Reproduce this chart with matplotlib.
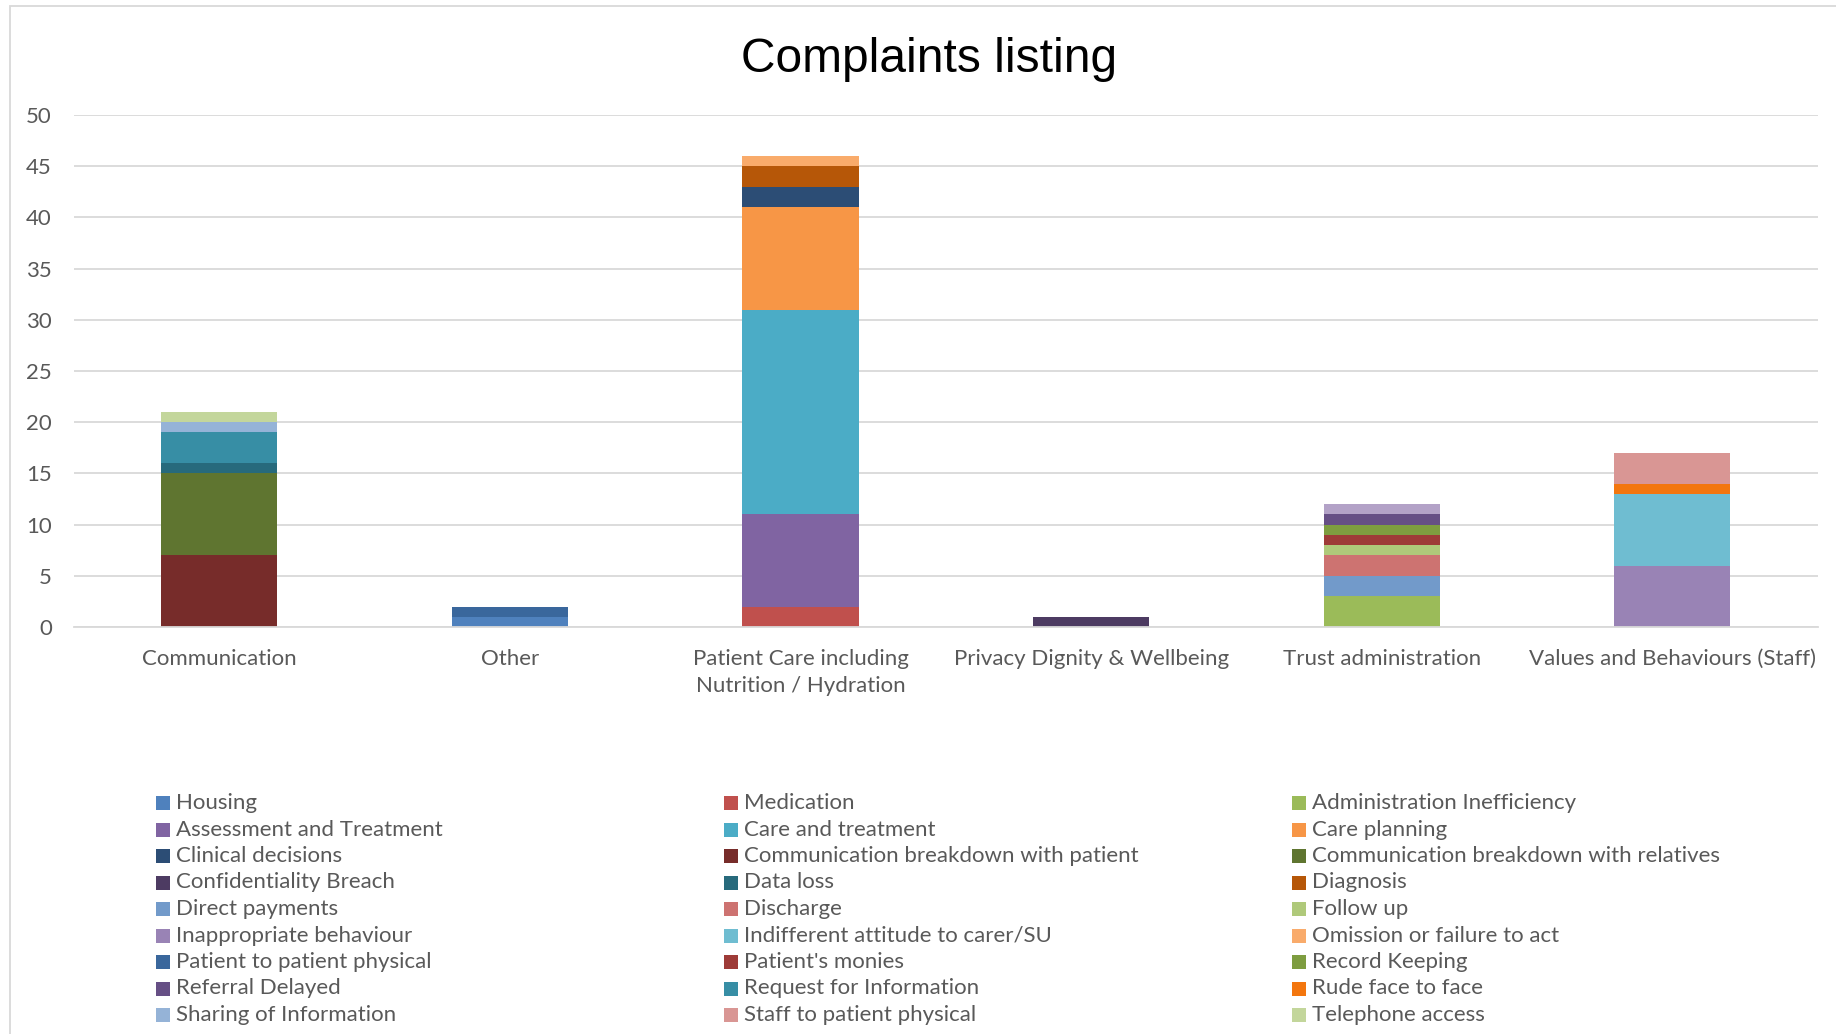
import matplotlib
matplotlib.use("Agg")
import matplotlib.pyplot as plt
from matplotlib.patches import Rectangle
import numpy as np

W, H = 1836, 1034

categories = ["Communication", "Other", "Patient Care including\nNutrition / Hydration",
              "Privacy Dignity & Wellbeing", "Trust administration",
              "Values and Behaviours (Staff)"]

# complaint types, in series order (legend reads row by row)
types = ["Housing", "Medication", "Administration Inefficiency",
         "Assessment and Treatment", "Care and treatment", "Care planning",
         "Clinical decisions", "Communication breakdown with patient",
         "Communication breakdown with relatives",
         "Confidentiality Breach", "Data loss", "Diagnosis",
         "Direct payments", "Discharge", "Follow up",
         "Inappropriate behaviour", "Indifferent attitude to carer/SU", "Omission or failure to act",
         "Patient to patient physical", "Patient's monies", "Record Keeping",
         "Referral Delayed", "Request for Information", "Rude face to face",
         "Sharing of Information", "Staff to patient physical", "Telephone access"]

colours = ["#4F81BD", "#C0504D", "#9BBB59",
           "#8064A2", "#4BACC6", "#F79646",
           "#2C4D75", "#772C2A", "#5F7530",
           "#4D3B62", "#276A7C", "#B65708",
           "#729ACA", "#CD7371", "#AFC97A",
           "#9983B5", "#6FBDD1", "#F9AB6B",
           "#3A679C", "#9E3B38", "#7E9D40",
           "#664F85", "#378EA5", "#F3760E",
           "#95B3D7", "#D99694", "#C3D69B"]

# counts per type for each category (Comm, Other, Patient Care, Privacy, Trust admin, Values)
counts = [
    [0, 1, 0, 0, 0, 0],   # Housing
    [0, 0, 2, 0, 0, 0],   # Medication
    [0, 0, 0, 0, 3, 0],   # Administration Inefficiency
    [0, 0, 9, 0, 0, 0],   # Assessment and Treatment
    [0, 0, 20, 0, 0, 0],  # Care and treatment
    [0, 0, 10, 0, 0, 0],  # Care planning
    [0, 0, 2, 0, 0, 0],   # Clinical decisions
    [7, 0, 0, 0, 0, 0],   # Communication breakdown with patient
    [8, 0, 0, 0, 0, 0],   # Communication breakdown with relatives
    [0, 0, 0, 1, 0, 0],   # Confidentiality Breach
    [1, 0, 0, 0, 0, 0],   # Data loss
    [0, 0, 2, 0, 0, 0],   # Diagnosis
    [0, 0, 0, 0, 2, 0],   # Direct payments
    [0, 0, 0, 0, 2, 0],   # Discharge
    [0, 0, 0, 0, 1, 0],   # Follow up
    [0, 0, 0, 0, 0, 6],   # Inappropriate behaviour
    [0, 0, 0, 0, 0, 7],   # Indifferent attitude to carer/SU
    [0, 0, 1, 0, 0, 0],   # Omission or failure to act
    [0, 1, 0, 0, 0, 0],   # Patient to patient physical
    [0, 0, 0, 0, 1, 0],   # Patient's monies
    [0, 0, 0, 0, 1, 0],   # Record Keeping
    [0, 0, 0, 0, 1, 0],   # Referral Delayed
    [3, 0, 0, 0, 0, 0],   # Request for Information
    [0, 0, 0, 0, 0, 1],   # Rude face to face
    [1, 0, 0, 0, 0, 0],   # Sharing of Information
    [0, 0, 0, 0, 0, 3],   # Staff to patient physical
    [1, 0, 0, 0, 0, 0],   # Telephone access
]

# one more series sits on top of Trust administration; its key is off the bottom edge
last_series = [0, 0, 0, 0, 1, 0]
last_colour = "#B3A2C7"

y_ticks = [0, 5, 10, 15, 20, 25, 30, 35, 40, 45, 50]

body_font = ["Lato", "DejaVu Sans"]
text_grey = "#595959"
grid_grey = "#D9D9D9"

fig = plt.figure(figsize=(W / 100, H / 100), dpi=100)
fig.patch.set_facecolor("white")

# chart area frame
fig.patches.append(Rectangle((10 / W, -0.05), 1.2, 1 - 6 / H + 0.05, transform=fig.transFigure,
                             fill=False, edgecolor=grid_grey, lw=1.3))

ax = fig.add_axes([74 / W, (H - 627) / H, 1743.6 / W, 512 / H])
x = np.arange(len(categories))
bottom = np.zeros(len(categories))
for vals, col in zip(counts + [last_series], colours + [last_colour]):
    vals = np.array(vals, dtype=float)
    ax.bar(x, vals, 0.40, bottom=bottom, color=col, zorder=3)
    bottom += vals

ax.set_xlim(-0.5, len(categories) - 0.5)
ax.set_ylim(0, 50)
ax.set_yticks(y_ticks)
ax.set_yticklabels([str(v) for v in y_ticks], family=body_font, fontsize=16, color=text_grey)
ax.set_xticks(x)
ax.set_xticklabels(categories, family=body_font, fontsize=16, color=text_grey, linespacing=1.45)
ax.tick_params(axis="y", length=0, pad=16)
ax.tick_params(axis="x", length=0, pad=16)
ax.grid(axis="y", color=grid_grey, lw=1.3, zorder=0)
for s in ["top", "right", "left"]:
    ax.spines[s].set_visible(False)
ax.spines["bottom"].set_color(grid_grey)
ax.spines["bottom"].set_linewidth(1.3)
ax.spines["bottom"].set_zorder(4)

fig.text(929 / W, 1 - 59.5 / H, "Complaints listing", ha="center", va="center",
         family=["Liberation Sans"], fontsize=34.5, color="black")

# key: three columns, filled row by row
col_x = [156, 724, 1292]
row_y0, row_step = 803, 26.5
for i, (name, col) in enumerate(zip(types, colours)):
    cx = col_x[i % 3]
    cy = row_y0 + (i // 3) * row_step
    fig.patches.append(Rectangle((cx / W, 1 - (cy + 7) / H), 14 / W, 14 / H,
                                 transform=fig.transFigure, facecolor=col, edgecolor="none"))
    fig.text((cx + 20) / W, 1 - cy / H, name, ha="left", va="center",
             family=body_font, fontsize=16, color=text_grey)

fig.savefig("out.png", dpi=100, facecolor="white")
